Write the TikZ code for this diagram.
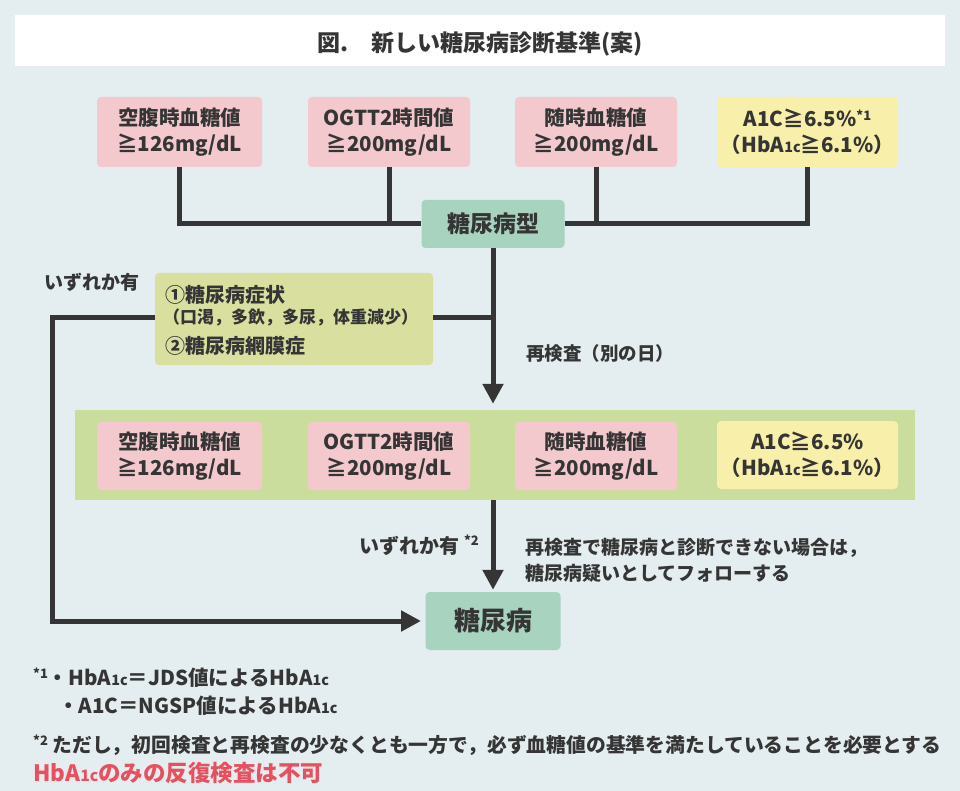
\documentclass[tikz,border=0pt]{standalone}
\usepackage{fontspec}
\setmainfont{Noto Sans CJK JP}
\usetikzlibrary{arrows.meta}
\definecolor{bgc}{HTML}{E4EDEF}
\definecolor{pinkc}{HTML}{F3C9CE}
\definecolor{yelc}{HTML}{F8F0AA}
\definecolor{grnc}{HTML}{A8D3BF}
\definecolor{symc}{HTML}{D8DF9F}
\definecolor{panc}{HTML}{CADD9C}
\definecolor{inkc}{HTML}{353535}
\definecolor{redc}{HTML}{E8505F}
\newcommand\hba{HbA\scalebox{0.7}{1c}}
\newcommand\fs[1]{\fontsize{#1}{#1}\selectfont}
\tikzset{
  x=1pt,y=-1pt,
  box/.style={rectangle,rounded corners=4pt,minimum height=70pt,align=center,
     text=inkc,font=\fontsize{20.5}{26}\selectfont\bfseries,inner sep=2pt},
  pinkbox/.style={box,fill=pinkc},
  yelbox/.style={box,fill=yelc},
  grnbox/.style={box,fill=grnc,font=\fs{23}\bfseries},
  conn/.style={line width=5pt,draw=inkc},
  arr/.style={conn,-{Triangle[length=20pt,width=20pt]}},
  lbl/.style={text=inkc,font=\fs{16}\bfseries,inner sep=0pt,align=left},
}
\begin{document}
\begin{tikzpicture}
\fill[bgc] (0,0) rectangle (960,791);
\useasboundingbox (0,0) rectangle (960,791);
\fill[white] (15,15) rectangle (945,66);
\node[text=inkc,font=\fs{23}\bfseries] (title) at (480,44) {図.\quad 新しい糖尿病診断基準(案)};

% top row
\node[pinkbox,minimum width=165pt] (b1) at (179.5,132) {空腹時血糖値\\≧126mg/dL};
\node[pinkbox,minimum width=162pt] (b2) at (389,132) {OGTT2時間値\\≧200mg/dL};
\node[pinkbox,minimum width=162pt] (b3) at (596,132) {随時血糖値\\≧200mg/dL};
\node[yelbox,minimum width=181pt] (b4) at (807.5,132) {A1C≧6.5\%\raisebox{0.3em}{\fs{13}*1}\\（\hba≧6.1\%）};

\node[grnbox,minimum width=143pt,minimum height=48pt] (type) at (493,224) {糖尿病型};

\draw[conn] (b1.south) |- (type.west);
\draw[conn] (b2.south) -- (b2.south |- type.west);
\draw[conn] (b4.south) |- (type.east);
\draw[conn] (b3.south) -- (b3.south |- type.east);

% symptoms
\node[rectangle,rounded corners=4pt,fill=symc,minimum width=278pt,minimum height=92pt] (symp) at (294,319) {};
\node[lbl,anchor=west,font=\fs{20}\bfseries] (s1) at (165,295) {①糖尿病症状};
\node[lbl,anchor=west,font=\fs{17}\bfseries] (s2) at (163,317) {（口渇，多飲，多尿，体重減少）};
\node[lbl,anchor=west,font=\fs{20}\bfseries] (s3) at (165,346) {②糖尿病網膜症};

\node[lbl,anchor=west,font=\fs{19}\bfseries] (any1) at (44,282) {いずれか有};

% panel
\node[rectangle,fill=panc,minimum width=840pt,minimum height=90pt] (panel) at (495,455) {};
\node[pinkbox,minimum width=165pt,minimum height=68pt] (c1) at (179.5,456) {空腹時血糖値\\≧126mg/dL};
\node[pinkbox,minimum width=162pt,minimum height=68pt] (c2) at (389,456) {OGTT2時間値\\≧200mg/dL};
\node[pinkbox,minimum width=162pt,minimum height=68pt] (c3) at (596,456) {随時血糖値\\≧200mg/dL};
\node[yelbox,minimum width=181pt,minimum height=68pt] (c4) at (807.5,455) {A1C≧6.5\%\\（\hba≧6.1\%）};

\coordinate (j1) at (493,317);
\coordinate (lc) at (52,317);
\draw[arr,shorten >=6pt] (type.south) -- (type.south |- panel.north);
\draw[conn] (symp.east |- j1) -- (j1);
\draw[arr] (symp.west |- lc) -- (lc) |- (421,621);

\node[lbl,anchor=west,font=\fs{18.5}\bfseries] (re) at (526,353) {再検査（別の日）};

\node[grnbox,minimum width=135pt,minimum height=58pt,font=\fs{26}\bfseries] (dm) at (493,621) {糖尿病};
\draw[arr,shorten >=2pt] (panel.south -| dm.north) -- (dm.north);

\node[lbl,anchor=east,font=\fs{20}\bfseries] (any2) at (479,545) {いずれか有 \raisebox{0.4em}{\fs{13}*2}};
\node[lbl,anchor=west,font=\fontsize{19}{26}\selectfont\bfseries] (note) at (525,560) {再検査で糖尿病と診断できない場合は，\\糖尿病疑いとしてフォローする};

% footnotes
\node[lbl,anchor=west,font=\fs{20.5}\bfseries] (f1) at (33,678) {\raisebox{0.35em}{\fs{13}*1}・\hba＝JDS値による\hba};
\node[lbl,anchor=west,font=\fs{20.5}\bfseries] (f2) at (58,706) {・A1C＝NGSP値による\hba};
\node[lbl,anchor=west,font=\fs{19.8}\bfseries] (f3) at (33,745) {\raisebox{0.35em}{\fs{13}*2}\ ただし，初回検査と再検査の少なくとも一方で，必ず血糖値の基準を満たしていることを必要とする};
\node[lbl,anchor=west,font=\fs{22.5}\bfseries,text=redc] (f4) at (33,773) {\hba のみの反復検査は不可};
\end{tikzpicture}
\end{document}
